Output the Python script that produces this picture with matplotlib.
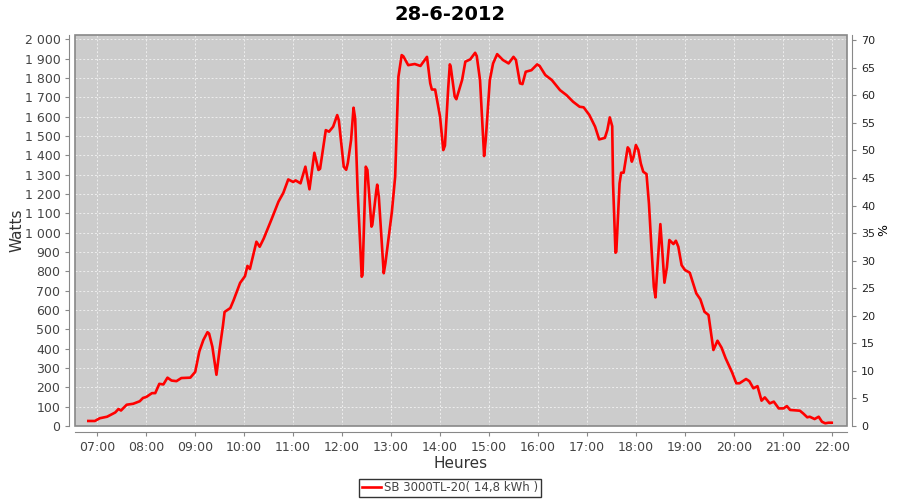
import matplotlib
matplotlib.use("Agg")
import matplotlib.pyplot as plt
from matplotlib.patches import Rectangle

# heure de mesure et puissance (W)
times = ["06:49", "06:57", "07:03", "07:12", "07:22", "07:26", "07:29", "07:36", "07:44", "07:52",
         "07:56", "08:00", "08:07", "08:11", "08:16", "08:21", "08:26", "08:31", "08:37", "08:43",
         "08:54", "09:00", "09:05", "09:10", "09:15", "09:17", "09:21", "09:26", "09:30", "09:34",
         "09:36", "09:43", "09:47", "09:55", "10:01", "10:04", "10:07", "10:15", "10:19", "10:24",
         "10:34", "10:42", "10:48", "10:54", "11:00", "11:03", "11:09", "11:15", "11:20", "11:26",
         "11:31", "11:33", "11:40", "11:44", "11:49", "11:54", "11:56", "12:02", "12:05", "12:07",
         "12:11", "12:14", "12:16", "12:19", "12:24", "12:25", "12:29", "12:31", "12:36", "12:37",
         "12:42", "12:43", "12:45", "12:51", "12:53", "13:01", "13:05", "13:09", "13:13", "13:15",
         "13:21", "13:29", "13:36", "13:44", "13:48", "13:50", "13:54", "14:00", "14:04", "14:06",
         "14:10", "14:12", "14:13", "14:18", "14:20", "14:27", "14:31", "14:37", "14:43", "14:45",
         "14:49", "14:52", "14:54", "14:56", "15:01", "15:05", "15:10", "15:17", "15:24", "15:30",
         "15:33", "15:38", "15:41", "15:45", "15:52", "15:59", "16:02", "16:09", "16:17", "16:27",
         "16:35", "16:43", "16:51", "16:56", "17:03", "17:10", "17:15", "17:22", "17:25", "17:28",
         "17:31", "17:32", "17:35", "17:36", "17:40", "17:42", "17:45", "17:50", "17:52", "17:55",
         "17:57", "18:00", "18:03", "18:06", "18:09", "18:13", "18:16", "18:19", "18:22", "18:24",
         "18:27", "18:30", "18:32", "18:35", "18:38", "18:41", "18:46", "18:49", "18:52", "18:56",
         "19:00", "19:06", "19:14", "19:19", "19:24", "19:29", "19:35", "19:40", "19:45", "19:50",
         "19:58", "20:03", "20:07", "20:15", "20:19", "20:24", "20:29", "20:34", "20:38", "20:44",
         "20:49", "20:55", "21:01", "21:05", "21:09", "21:21", "21:25", "21:30", "21:33", "21:39",
         "21:44", "21:48", "21:52", "21:56", "22:00"]
watts = [26, 26, 40, 48, 70, 88, 80, 110, 115, 128,
         145, 150, 170, 170, 218, 215, 250, 235, 232, 248,
         250, 280, 385, 445, 485, 478, 410, 265, 400, 520,
         590, 610, 650, 740, 775, 828, 812, 953, 927, 970,
         1074, 1160, 1206, 1275, 1262, 1270, 1255, 1341, 1224, 1413,
         1324, 1330, 1530, 1522, 1548, 1608, 1580, 1341, 1325, 1360,
         1479, 1646, 1590, 1220, 772, 780, 1341, 1324, 1031, 1040,
         1220, 1248, 1185, 790, 840, 1108, 1289, 1806, 1918, 1912,
         1866, 1872, 1862, 1909, 1772, 1740, 1740, 1600, 1427, 1450,
         1746, 1870, 1860, 1703, 1690, 1789, 1884, 1896, 1930, 1913,
         1789, 1548, 1396, 1480, 1789, 1875, 1923, 1893, 1875, 1909,
         1893, 1772, 1768, 1832, 1840, 1870, 1862, 1815, 1789, 1737,
         1711, 1677, 1651, 1648, 1608, 1548, 1482, 1490, 1530, 1596,
         1550, 1255, 896, 900, 1255, 1310, 1310, 1441, 1430, 1367,
         1390, 1453, 1427, 1358, 1315, 1303, 1151, 927, 720, 665,
         860, 1044, 927, 741, 820, 962, 941, 958, 927, 832,
         807, 793, 686, 655, 591, 574, 393, 441, 405, 350,
         276, 221, 221, 243, 232, 195, 206, 131, 148, 117,
         126, 91, 91, 103, 83, 79, 65, 45, 48, 36,
         48, 22, 14, 17, 17]

hours = list(range(7, 23))
hour_labels = ["%02d:00" % h for h in hours]
watt_ticks = list(range(0, 2001, 100))
watt_labels = [("%d %03d" % (w // 1000, w % 1000)) if w >= 1000 else str(w) for w in watt_ticks]
pct_ticks = list(range(0, 71, 5))


def to_hours(t):
    h, m = t.split(":")
    return int(h) + int(m) / 60


x = [to_hours(t) for t in times]

fig = plt.figure(figsize=(9, 5), dpi=100)
ax = fig.add_axes([0.0833, 0.148, 0.8575, 0.782])
ax.set_facecolor("#cccccc")
ax.plot(x, watts, color="#ff0000", lw=1.9, label="SB 3000TL-20( 14,8 kWh )", zorder=3)

ax.set_xlim(6.544, 22.306)
ax.set_ylim(0, 2022)
ax.set_xticks(hours)
ax.set_xticklabels(hour_labels)
ax.set_yticks(watt_ticks)
ax.set_yticklabels(watt_labels)
ax.grid(True, color="#eeeeee", ls=(0, (2, 2)), lw=0.7)
ax.set_axisbelow(True)

for s in ["top", "right"]:
    ax.spines[s].set_visible(False)
for s in ["left", "bottom"]:
    ax.spines[s].set_position(("outward", 4))
    ax.spines[s].set_color("#888888")
ax.add_patch(Rectangle((0, 0), 1, 1, transform=ax.transAxes, fill=False,
                       ec="#888888", lw=1.2, clip_on=False, zorder=4))
ax.tick_params(colors="#888888", labelcolor="#444444", labelsize=9, length=3)

ax.set_xlabel("Heures", fontsize=11, color="#333333", labelpad=2)
ax.set_ylabel("Watts", fontsize=11, color="#333333", labelpad=0)
fig.text(0.5, 0.97, "28-6-2012", fontsize=14, fontweight="bold", ha="center", va="center")

ax2 = ax.twinx()
ax2.set_ylim(0, 70.96)
ax2.set_yticks(pct_ticks)
for s in ["top", "left", "bottom"]:
    ax2.spines[s].set_visible(False)
ax2.spines["right"].set_position(("outward", 4))
ax2.spines["right"].set_color("#888888")
ax2.tick_params(colors="#888888", labelcolor="#222222", labelsize=8, length=3)
ax2.set_ylabel("%", rotation=270, fontsize=9, labelpad=8)

leg = fig.legend(*ax.get_legend_handles_labels(), loc="center", bbox_to_anchor=(0.5, 0.024),
                 frameon=True, fancybox=False, fontsize=8.5, handlelength=1.6,
                 borderpad=0.25, handletextpad=0.2, borderaxespad=0)
leg.get_frame().set_edgecolor("black")
leg.get_frame().set_linewidth(1.0)
for t in leg.get_texts():
    t.set_color("#444444")

fig.savefig("out.png", dpi=100)
